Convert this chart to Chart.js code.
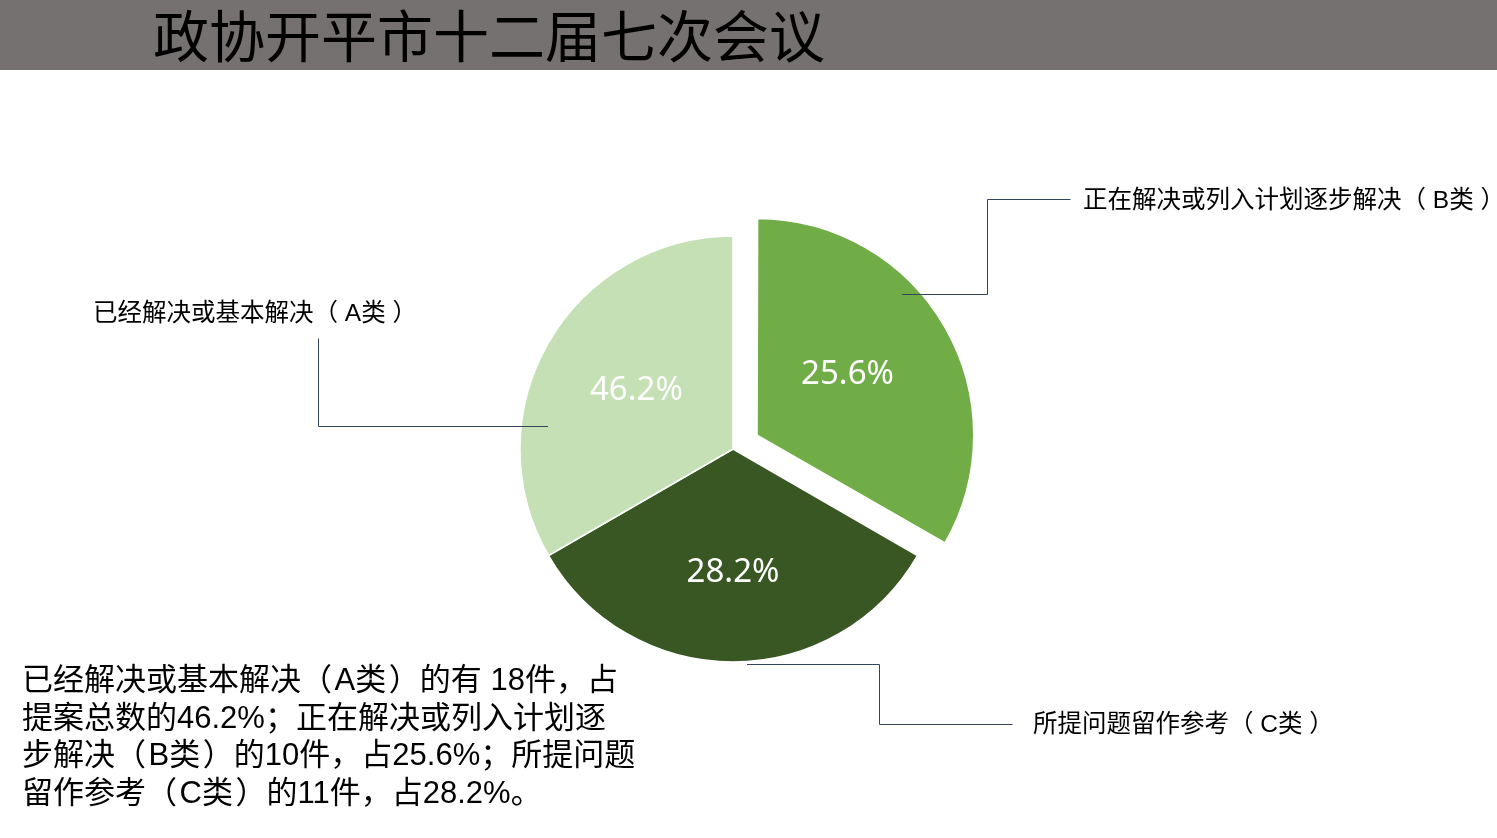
<!DOCTYPE html>
<html>
<head>
<meta charset="utf-8">
<script src="https://cdn.jsdelivr.net/npm/chart.js@4/dist/chart.umd.min.js"></script>
<style>
  body { margin: 0; width: 1497px; height: 838px; overflow: hidden; background: #fff; position: relative;
         font-family: "Liberation Sans", "Noto Sans CJK SC", sans-serif; }
  #band { position: absolute; left: 0; top: 0; width: 1497px; height: 70px; background: #767171; }
  #title { position: absolute; left: 153px; top: 0; font-size: 56px; line-height: 66px; color: #000;
           font-family: "Noto Sans CJK SC", sans-serif; white-space: nowrap; }
  .cat { position: absolute; font-size: 24.5px; line-height: 30px; color: #000; white-space: nowrap; }
  #note { position: absolute; left: 22px; top: 661px; font-size: 31px; line-height: 37.5px; color: #000; white-space: nowrap; }
  canvas { position: absolute; left: 0; top: 0; }
</style>
</head>
<body>
<div id="band"></div>
<div id="title">政协开平市十二届七次会议</div>
<canvas id="pie" width="1497" height="838"></canvas>
<div class="cat" style="left:93px; top:298px;">已经解决或基本解决（ A类 ）</div>
<div class="cat" style="left:1083px; top:185px;">正在解决或列入计划逐步解决（ B类 ）</div>
<div class="cat" style="left:1033px; top:709px;">所提问题留作参考（ C类 ）</div>
<div id="note">已经解决或基本解决（&#8202;A类&#8202;）的有 18件，占<br>提案总数的46.2%；正在解决或列入计划逐<br>步解决（&#8202;B类&#8202;）的10件，占25.6%；所提问题<br>留作参考（&#8202;C类&#8202;）的11件，占28.2%。</div>
<script>
// slices in drawing order, clockwise from 12 o'clock
const categories = ["正在解决或列入计划逐步解决（B类）", "所提问题留作参考（C类）", "已经解决或基本解决（A类）"];
const counts = [10, 11, 18];
const percentLabels = ["25.6%", "28.2%", "46.2%"];
// the picture draws the three slices as equal thirds (120° each)
const sliceValues = [1, 1, 1];
const sliceColors = ["#70AD47", "#385723", "#C5E0B4"];
const sliceOffsets = [111, 0, 0];

// label / leader line placement (t = position across the slice, f = fraction of radius)
const labelT = [0.47, 0.5, 0.51];
const labelF = [0.51, 0.58, 0.53];
const anchorT = [0.38, 0.47, 0.31];
const anchorF = [0.95, 1.01, 0.876];
const elbowX = [987, 879, 318];
const endY = [199, 724, 338];
const endX = [1070, 1012, 318];

const pieLabels = {
  id: "pieLabels",
  afterDatasetsDraw(chart) {
    const ctx = chart.ctx;
    const meta = chart.getDatasetMeta(0);
    meta.data.forEach((arc, i) => {
      const p = arc.getProps(["x", "y", "startAngle", "endAngle", "outerRadius"], true);
      const off = (arc.options.offset || 0) / 4;
      const mid = (p.startAngle + p.endAngle) / 2;
      const cx = p.x + Math.cos(mid) * off;
      const cy = p.y + Math.sin(mid) * off;
      const r = p.outerRadius;

      const la = p.startAngle + labelT[i] * (p.endAngle - p.startAngle);
      ctx.save();
      ctx.fillStyle = "#fff";
      ctx.font = "33px 'Noto Sans', sans-serif";
      ctx.textAlign = "center";
      ctx.textBaseline = "middle";
      ctx.fillText(percentLabels[i], cx + Math.cos(la) * r * labelF[i], cy + Math.sin(la) * r * labelF[i]);

      const aa = p.startAngle + anchorT[i] * (p.endAngle - p.startAngle);
      const ax = Math.round(cx + Math.cos(aa) * r * anchorF[i]);
      const ay = Math.round(cy + Math.sin(aa) * r * anchorF[i]) + 0.5;
      ctx.strokeStyle = "#34465C";
      ctx.lineWidth = 1;
      ctx.beginPath();
      ctx.moveTo(ax, ay);
      ctx.lineTo(elbowX[i] + 0.5, ay);
      ctx.lineTo(elbowX[i] + 0.5, endY[i] + 0.5);
      ctx.lineTo(endX[i] + 0.5, endY[i] + 0.5);
      ctx.stroke();
      ctx.restore();
    });
  }
};

new Chart(document.getElementById("pie"), {
  type: "pie",
  data: {
    labels: categories,
    datasets: [{
      data: sliceValues,
      backgroundColor: sliceColors,
      borderColor: "#ffffff",
      borderWidth: 1.5,
      offset: sliceOffsets
    }]
  },
  options: {
    responsive: false,
    animation: false,
    events: [],
    radius: 213,
    layout: { padding: { left: 0, right: 31, top: 60, bottom: 0 } },
    plugins: { legend: { display: false }, tooltip: { enabled: false } }
  },
  plugins: [pieLabels]
});
</script>
</body>
</html>
